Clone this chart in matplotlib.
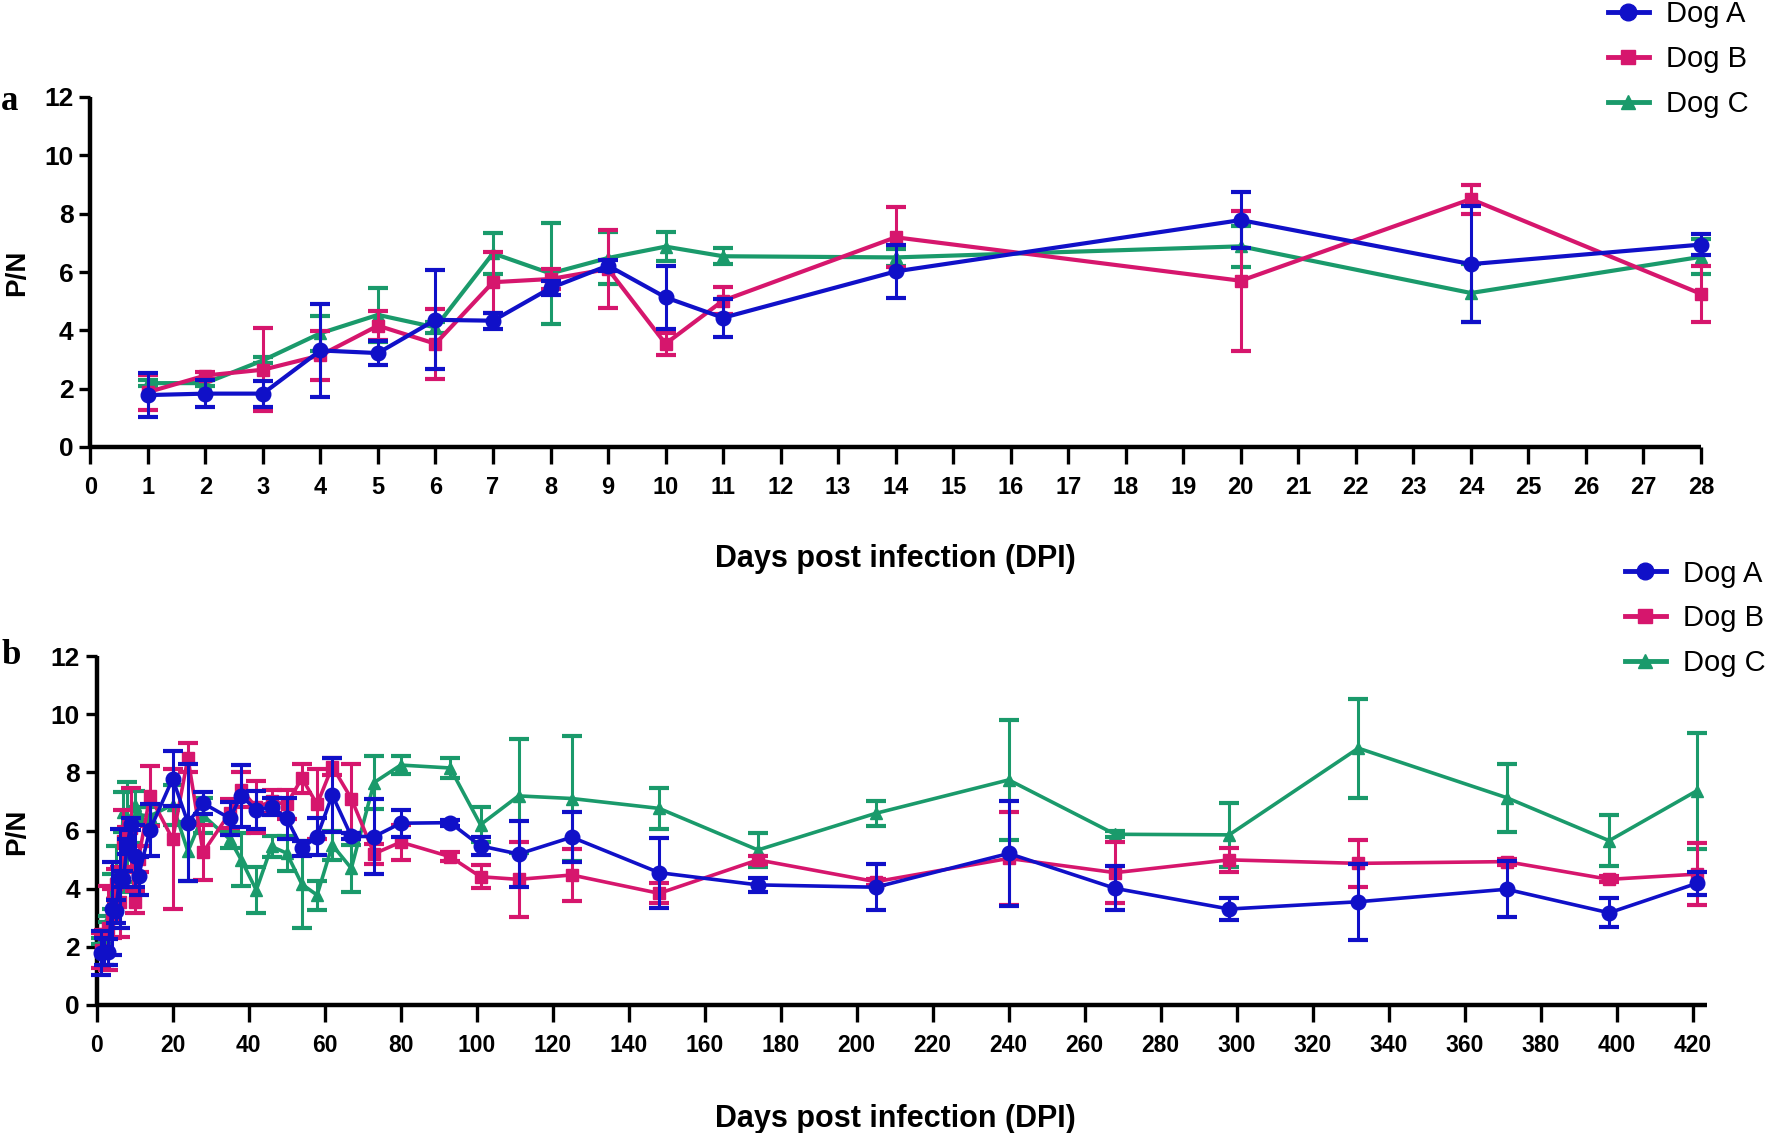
import matplotlib
matplotlib.use("Agg")
import matplotlib.pyplot as plt
from matplotlib.lines import Line2D
import numpy as np

# ---------------- data ----------------
series_names = ["Dog A", "Dog B", "Dog C"]

# panel a (0-28 DPI)
days_a = [1, 2, 3, 4, 5, 6, 7, 8, 9, 10, 11, 14, 20, 24, 28]
dogA_a = [1.78, 1.83, 1.83, 3.31, 3.22, 4.36, 4.33, 5.45, 6.22, 5.13, 4.43, 6.02, 7.78, 6.27, 6.94]
dogA_a_err = [0.75, 0.47, 0.45, 1.6, 0.4, 1.7, 0.27, 0.25, 0.2, 1.07, 0.65, 0.9, 0.95, 2.0, 0.37]
dogB_a = [1.88, 2.45, 2.65, 3.14, 4.16, 3.54, 5.65, 5.76, 6.1, 3.54, 5.02, 7.19, 5.70, 8.5, 5.25]
dogB_a_err = [0.6, 0.12, 1.43, 0.85, 0.5, 1.2, 1.05, 0.35, 1.35, 0.37, 0.45, 1.03, 2.4, 0.5, 0.95]
dogC_a = [2.19, 2.19, 2.97, 3.9, 4.53, 4.1, 6.64, 5.95, 6.48, 6.87, 6.54, 6.5, 6.88, 5.28, 6.52]
dogC_a_err = [0.1, 0.1, 0.1, 0.6, 0.93, 0.2, 0.7, 1.73, 0.9, 0.5, 0.28, 0.3, 0.7, 1.0, 0.6]

# panel b: same early points plus later sampling days
days_late = [35, 38, 42, 46, 50, 54, 58, 62, 67, 73, 80, 93, 101, 111, 125, 148,
             174, 205, 240, 268, 298, 332, 371, 398, 421]
dogA_late = [6.42, 7.19, 6.71, 6.82, 6.42, 5.39, 5.79, 7.22, 5.8, 5.79, 6.25, 6.27, 5.47,
             5.19, 5.77, 4.55, 4.13, 4.05, 5.21, 4.01, 3.3, 3.55, 3.98, 3.17, 4.18]
dogA_late_err = [0.56, 1.07, 0.65, 0.3, 0.7, 0.26, 0.63, 1.26, 0.1, 1.3, 0.46, 0.1, 0.32,
                 1.13, 0.87, 1.2, 0.25, 0.8, 1.82, 0.76, 0.37, 1.3, 0.97, 0.5, 0.4]
dogB_late = [6.6, 7.4, 6.8, 7.0, 6.9, 7.8, 6.9, 8.2, 7.1, 5.2, 5.6, 5.1, 4.41,
             4.32, 4.47, 3.84, 4.99, 4.24, 5.04, 4.55, 4.99, 4.87, 4.93, 4.32, 4.5]
dogB_late_err = [0.5, 0.6, 0.9, 0.4, 0.5, 0.5, 1.2, 0.3, 1.2, 0.35, 0.6, 0.15, 0.4,
                 1.3, 0.9, 0.35, 0.15, 0.1, 1.6, 1.06, 0.42, 0.81, 0.1, 0.1, 1.07]
dogC_late = [5.7, 5.0, 3.95, 5.45, 5.22, 4.15, 3.78, 5.5, 4.7, 7.65, 8.25, 8.15, 6.2,
             7.19, 7.1, 6.76, 5.33, 6.59, 7.74, 5.87, 5.85, 8.83, 7.13, 5.65, 7.36]
dogC_late_err = [0.3, 0.9, 0.8, 0.35, 0.6, 1.5, 0.5, 0.5, 0.8, 0.9, 0.3, 0.35, 0.6,
                 1.95, 2.15, 0.7, 0.6, 0.43, 2.05, 0.1, 1.1, 1.7, 1.17, 0.88, 1.98]

xticks_a = list(range(0, 29))
xticks_b = list(range(0, 421, 20))
yticks = [0, 2, 4, 6, 8, 10, 12]

colors = ["#1010C8", "#D6166D", "#1A9A6B"]
markers = ["o", "s", "^"]
msizes = [10.5, 9, 8.5]

plt.rcParams["font.family"] = ["Liberation Sans", "DejaVu Sans"]

W, H = 1770, 1133
fig = plt.figure(figsize=(W / 100, H / 100), dpi=100)


def px_axes(x0, x1, ytop, ybot):
    return fig.add_axes([x0 / W, 1 - ybot / H, (x1 - x0) / W, (ybot - ytop) / H])


def style(ax, xticks, xlim, xfs, yfs):
    ax.set_ylim(0, 12)
    ax.set_xlim(*xlim)
    ax.set_yticks(yticks)
    ax.set_xticks(xticks)
    for s in ["top", "right"]:
        ax.spines[s].set_visible(False)
    for s in ["left", "bottom"]:
        ax.spines[s].set_linewidth(3.2)
        ax.spines[s].set_capstyle("butt")
    ax.tick_params(axis="y", length=8, width=2.4, pad=4, labelsize=yfs)
    ax.tick_params(axis="x", length=12, width=2.4, pad=9, labelsize=xfs)
    for lab in ax.get_xticklabels() + ax.get_yticklabels():
        lab.set_fontweight("bold")


def draw(ax, days, means, errs, lw):
    order = [2, 1, 0]
    for i in order:
        ax.errorbar(days, means[i], yerr=errs[i], color=colors[i], marker=markers[i],
                    ms=msizes[i], lw=lw, elinewidth=2.2, capsize=7, capthick=3,
                    clip_on=False, zorder=3 + (2 - i))


# ---------- panel a ----------
axa = px_axes(90.3, 1701, 97, 447)
draw(axa, days_a, [dogA_a, dogB_a, dogC_a], [dogA_a_err, dogB_a_err, dogC_a_err], 3.0)
style(axa, xticks_a, (0, 28), 17, 19)
fig.text(895 / W, 1 - 559.5 / H, "Days post infection (DPI)", ha="center", va="center",
         fontsize=22, fontweight="bold")
fig.text(17 / W, 1 - 273 / H, "P/N", ha="center", va="center", rotation=90,
         fontsize=20, fontweight="bold")
fig.text(1 / W, 1 - 101 / H, "a", ha="left", va="center", fontsize=25,
         fontweight="bold", family="Liberation Serif")

# ---------- panel b ----------
days_b = days_a + days_late
axb = px_axes(96.7, 1706.8, 656, 1005)
draw(axb, days_b,
     [dogA_a + dogA_late, dogB_a + dogB_late, dogC_a + dogC_late],
     [dogA_a_err + dogA_late_err, dogB_a_err + dogB_late_err, dogC_a_err + dogC_late_err], 2.6)
style(axb, xticks_b, (0, 423.7), 16.5, 19)
fig.text(895 / W, 1 - 1118.5 / H, "Days post infection (DPI)", ha="center", va="center",
         fontsize=22, fontweight="bold")
fig.text(17 / W, 1 - 832 / H, "P/N", ha="center", va="center", rotation=90,
         fontsize=20, fontweight="bold")
fig.text(1 / W, 1 - 655 / H, "b", ha="left", va="center", fontsize=25,
         fontweight="bold", family="Liberation Serif")

# ---------- legends ----------
handles = [Line2D([], [], color=colors[i], marker=markers[i], ms=msizes[i] + 1.5, lw=3.5)
           for i in range(3)]


def add_legend(x_line0, y_first_center):
    leg = fig.legend(handles, series_names, loc="upper left",
                     bbox_to_anchor=(x_line0 / W, 1 - (y_first_center - 16) / H),
                     frameon=False, fontsize=21, handlelength=1.4, handletextpad=0.58,
                     labelspacing=0.58, borderpad=0, borderaxespad=0, numpoints=1)
    return leg


add_legend(1608, 16)
add_legend(1625, 575.5)

fig.savefig("out.png", dpi=100)
